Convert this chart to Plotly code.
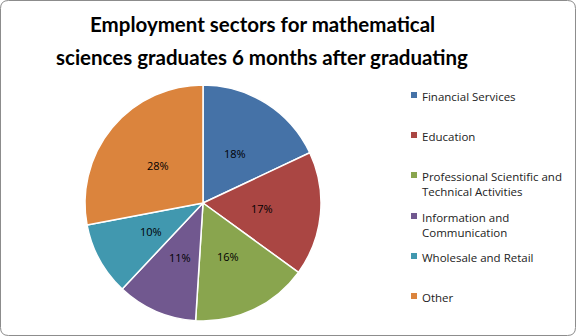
import math
import plotly.graph_objects as go

# ---- data ----
sectors = ["Financial Services", "Education",
           "Professional Scientific and<br>Technical Activities",
           "Information and<br>Communication", "Wholesale and Retail", "Other"]
shares = [18, 17, 16, 11, 10, 28]
pct_labels = ["18%", "17%", "16%", "11%", "10%", "28%"]
title_lines = ["Employment sectors for mathematical",
               "sciences graduates 6 months after graduating"]

# ---- style ----
colors = ["#4572A7", "#AA4643", "#89A54E", "#71588F", "#4198AF", "#DB843D"]
W, H = 576, 336
cx, cy, R = 203, 203, 118                       # pie centre / radius in pixels
legend_line_y = [95, 135, 175, 216, 256, 296]   # pixel y of first text line of each legend entry
title_line_y = [24, 57]

fig = go.Figure(go.Pie(
    labels=sectors, values=shares,
    textinfo="none",
    sort=False, direction="clockwise", rotation=0,
    marker=dict(colors=colors, line=dict(color="white", width=1.5)),
    domain=dict(x=[(cx - R) / W, (cx + R) / W], y=[(H - cy - R) / H, (H - cy + R) / H]),
    showlegend=False, hoverinfo="label+percent",
))

annotations = []
for t, ty in zip(title_lines, title_line_y):
    annotations.append(dict(text="<b>" + t + "</b>", x=262 / W, y=1 - ty / H,
                            xref="paper", yref="paper", xanchor="center", yanchor="middle",
                            showarrow=False, font=dict(family="Lato", size=20.5, color="black")))

# percentage labels at half radius on each slice's mid angle
total = sum(shares)
cum = 0
for v, lab in zip(shares, pct_labels):
    mid = (cum + v / 2) / total * 2 * math.pi
    cum += v
    lx = cx + 0.5 * R * math.sin(mid)
    ly = cy - 0.5 * R * math.cos(mid)
    annotations.append(dict(text=lab, x=lx / W, y=1 - ly / H, xref="paper", yref="paper",
                            xanchor="center", yanchor="middle", showarrow=False,
                            font=dict(family="Open Sans", size=11, color="black")))

shapes = []
for lab, col, ly in zip(sectors, colors, legend_line_y):
    annotations.append(dict(text=lab, x=420 / W, y=1 - (ly - 8) / H, xref="paper", yref="paper",
                            xanchor="left", yanchor="top", align="left", showarrow=False,
                            font=dict(family="Open Sans", size=11.5, color="#222222")))
    shapes.append(dict(type="rect", xref="paper", yref="paper",
                       x0=411 / W, x1=417 / W, y0=1 - (ly + 3) / H, y1=1 - (ly - 3) / H,
                       fillcolor=col, line=dict(width=0)))

# rounded outer border
r = 8
def px(x, y):
    return f"{x / W:.5f},{1 - y / H:.5f}"
x0, y0, x1, y1 = 0.5, 0.5, W - 0.5, H - 0.5
path = (f"M{px(x0 + r, y0)} L{px(x1 - r, y0)} Q{px(x1, y0)} {px(x1, y0 + r)} "
        f"L{px(x1, y1 - r)} Q{px(x1, y1)} {px(x1 - r, y1)} L{px(x0 + r, y1)} "
        f"Q{px(x0, y1)} {px(x0, y1 - r)} L{px(x0, y0 + r)} Q{px(x0, y0)} {px(x0 + r, y0)} Z")
shapes.append(dict(type="path", xref="paper", yref="paper", path=path,
                   line=dict(color="#8c8c8c", width=1)))

fig.update_layout(width=W, height=H, margin=dict(l=0, r=0, t=0, b=0),
                  paper_bgcolor="white", plot_bgcolor="white",
                  annotations=annotations, shapes=shapes)
fig.write_html("out.html")
